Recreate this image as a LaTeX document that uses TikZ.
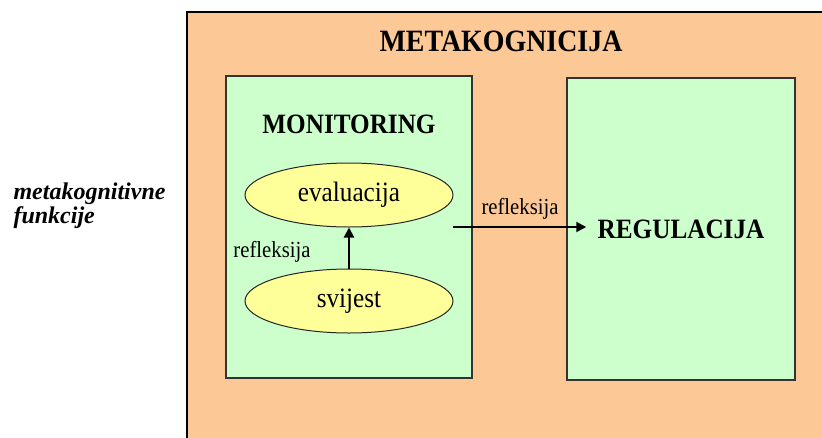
\documentclass[tikz,border=0pt]{standalone}
\usepackage{fontspec}
\setmainfont{Liberation Serif}
\usetikzlibrary{shapes.geometric}
\usetikzlibrary{arrows.meta}
\definecolor{breskva}{RGB}{252,200,150}
\definecolor{zelena}{RGB}{204,255,204}
\definecolor{zuta}{RGB}{255,255,153}
\newcommand{\uski}[1]{\scalebox{0.9}[1]{#1}}
\tikzstyle{kutija}=[draw=black!80, line width=1.5pt, fill=zelena, minimum width=246pt, minimum height=302pt, inner sep=0pt]
\tikzstyle{elipsa}=[ellipse, draw=black!85, line width=1pt, fill=zuta, minimum width=208pt, minimum height=64pt, inner sep=0pt, font=\fontsize{28}{30}\selectfont]
\tikzstyle{naslov}=[font=\fontsize{28}{30}\selectfont\bfseries]
\tikzstyle{oznaka}=[font=\fontsize{23}{25}\selectfont]
\tikzstyle{strelica}=[line width=2pt, -{Triangle[length=10pt,width=10pt]}]

\begin{document}
\begin{tikzpicture}[x=1pt, y=-1pt]
        \clip (0,0) rectangle (822,437);
        % okvir
        \draw[fill=breskva, line width=2pt] (187,12) rectangle (840,460);
        \node[font=\fontsize{31}{33}\selectfont\bfseries] (meta) at (501,41) {\uski{METAKOGNICIJA}};
        \node[font=\fontsize{24}{24}\selectfont\bfseries\itshape, align=left, anchor=west] (funkcije) at (10,206) {metakognitivne\\funkcije};

        % kutije
        \node[kutija] (monitoring) at (349,227) {};
        \node[kutija, minimum width=228pt, naslov] (regulacija) at (681,229) {\uski{REGULACIJA}};
        \node[naslov] (monnaslov) at (349,124) {\uski{MONITORING}};

        % elipse
        \node[elipsa] (evaluacija) at (349,195) {\uski{evaluacija}};
        \node[elipsa] (svijest) at (349,301) {\uski{svijest}};

        % strelice
        \coordinate (refstart) at (453,227);
        \draw[strelica] (svijest) -- (evaluacija);
        \draw[strelica] (refstart) -- ([xshift=20pt]refstart -| regulacija.west);
        \node[oznaka] (ref1) at (272,252) {\uski{refleksija}};
        \node[oznaka] (ref2) at (520,209) {\uski{refleksija}};
\end{tikzpicture}
\end{document}
